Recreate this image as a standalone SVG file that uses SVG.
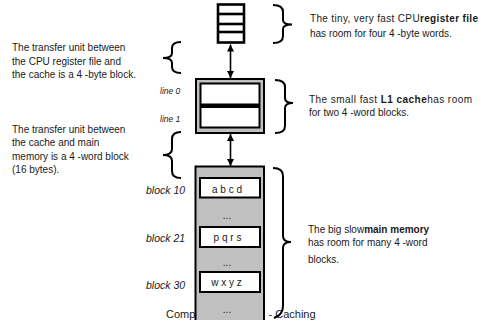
<svg xmlns="http://www.w3.org/2000/svg" width="482" height="320" viewBox="0 0 482 320">
<style>
text{font-family:"Liberation Sans",Arial,sans-serif;font-size:10px;fill:#1a1a1a}
.b{font-weight:bold}
.i{font-style:italic}
.sm{font-size:8.5px}
.bl{font-size:10.5px}
.ft{font-size:11px}
.mid{text-anchor:middle}
.brace{fill:none;stroke:#000;stroke-width:2}
.conn{stroke:#000;stroke-width:1.6;fill:none}
.cell{fill:#fff;stroke:#000;stroke-width:2}
.gray{fill:#c0c0c0;stroke:#000;stroke-width:2}
</style>
<defs>
<marker id="ah" markerUnits="userSpaceOnUse" markerWidth="7" markerHeight="7" refX="7" refY="3.5" orient="auto-start-reverse">
<path d="M0,0 L7,3.5 L0,7 z" fill="#000"/>
</marker>
</defs>
<g id="footer">
<text class="ft" x="166" y="318">Comp</text>
<text class="ft" x="268.5" y="318">- Caching</text>
</g>
<g id="connectors">
<line class="conn" x1="230.5" y1="44.5" x2="230.5" y2="78" marker-start="url(#ah)" marker-end="url(#ah)"/>
<line class="conn" x1="230.5" y1="134" x2="230.5" y2="166" marker-start="url(#ah)" marker-end="url(#ah)"/>
</g>
<g id="register-file">
<rect x="218" y="4.5" width="26" height="38" fill="#fff" stroke="#000" stroke-width="2.6"/>
<line x1="218" y1="14" x2="244" y2="14" stroke="#000" stroke-width="2.6"/>
<line x1="218" y1="24" x2="244" y2="24" stroke="#000" stroke-width="2.6"/>
<line x1="218" y1="32" x2="244" y2="32" stroke="#000" stroke-width="2.6"/>
</g>
<g id="l1-cache">
<rect class="gray" x="196" y="79" width="68" height="54"/>
<rect x="199.5" y="82.5" width="61" height="46" fill="#000"/>
<rect x="201.5" y="84.5" width="57" height="19" fill="#fff"/>
<rect x="201.5" y="108" width="57" height="18.5" fill="#fff"/>
<text class="i sm" x="160" y="94">line 0</text>
<text class="i sm" x="160" y="122">line 1</text>
</g>
<g id="main-memory">
<rect class="gray" x="195.5" y="166.5" width="68.5" height="160"/>
<rect class="cell" x="200" y="178" width="60" height="19.5"/>
<text class="mid" x="227" y="193">a b c d</text>
<text class="mid" x="227" y="219">...</text>
<rect class="cell" x="200" y="227" width="60" height="20"/>
<text class="mid" x="227.5" y="241">p q r s</text>
<text class="mid" x="227" y="266">...</text>
<rect class="cell" x="200" y="272" width="60" height="20"/>
<text class="mid" x="226.5" y="286">w x y z</text>
<text class="mid" x="227" y="313">...</text>
<text class="i bl" x="146" y="194">block 10</text>
<text class="i bl" x="146" y="241.5">block 21</text>
<text class="i bl" x="146" y="289">block 30</text>
</g>
<g id="register-note">
<path class="brace" d="M273,5 Q283,5 283,12 L283,20 Q283,24.5 292,24.5 Q283,24.5 283,29 L283,36 Q283,43 273,43"/>
<text x="310" y="22" textLength="168" lengthAdjust="spacing">The tiny, very fast CPU<tspan class="b">register file</tspan></text>
<text x="310" y="37">has room for four 4 -byte words.</text>
</g>
<g id="cache-note">
<path class="brace" d="M275,80 Q285,80 285,87 L285,98 Q285,103 293,103 Q285,103 285,108 L285,126 Q285,133 275,133"/>
<text x="309" y="102.5" textLength="163" lengthAdjust="spacing">The small fast <tspan class="b">L1  cache</tspan>has room</text>
<text x="309" y="116">for two  4 -word blocks.</text>
</g>
<g id="memory-note">
<path class="brace" d="M273,168 Q283,168 283,176 L283,236 Q283,242 291,242 Q283,242 283,248 L283,306 Q283,315 274,318"/>
<text x="308" y="232.5">The big slow<tspan class="b">main memory</tspan></text>
<text x="308" y="246">has room for many 4 -word</text>
<text x="308" y="262.5">blocks.</text>
</g>
<g id="transfer-note-1">
<path class="brace" d="M181,42 Q172,42 172,48 L172,53 Q172,58 163,58 Q172,58 172,63 L172,67 Q172,73 181,73"/>
<text x="12" y="51">The transfer unit between</text>
<text x="12" y="64.5">the CPU register file and</text>
<text x="12" y="77.5">the cache is a 4 -byte block.</text>
</g>
<g id="transfer-note-2">
<path class="brace" d="M181,132 Q172,132 172,139 L172,149 Q172,155 163,155 Q172,155 172,161 L172,171 Q172,178 181,178"/>
<text x="12" y="133">The transfer unit between</text>
<text x="12" y="146">the cache and main</text>
<text x="12" y="159.5">memory is a 4 -word block</text>
<text x="12" y="173">(16 bytes).</text>
</g>
</svg>
